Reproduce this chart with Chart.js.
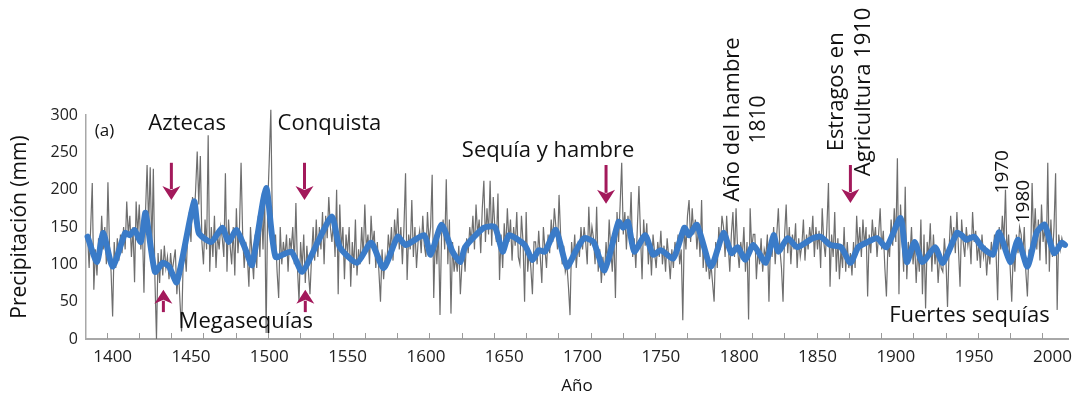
<html lang="es">
<head>
  <meta charset="UTF-8">
  <title>Precipitación reconstruida</title>
  <script src="https://cdn.jsdelivr.net/npm/chart.js"></script>
  <style>
    body, html {
      margin: 0;
      padding: 0;
      background: #ffffff;
    }
    .chart-container {
      width: 1080px;
      height: 399px;
    }
  </style>
</head>
<body>
  <div class="chart-container"><canvas id="myChart" width="1080" height="399"></canvas></div>

  <script>
    // annual reconstruction, one value per year starting in 1384 (mm)
    const startYear = 1384;
    const annualMm = [
      140, 95, 150, 209, 66, 120,
      85, 135, 110, 165, 120, 150, 100, 210, 125, 90,
      30, 130, 95, 135, 105, 140, 115, 150, 120, 184,
      140, 165, 110, 150, 76, 184, 140, 180, 120, 150,
      62, 170, 233, 150, 230, 120, 228, 80, 0, 115,
      75, 120, 85, 125, 95, 110, 80, 115, 90, 105,
      120, 60, 95, 50, 10, 100, 120, 90, 145, 170,
      130, 190, 160, 200, 251, 180, 245, 130, 100, 160,
      120, 273, 90, 150, 110, 165, 95, 140, 120, 150,
      135, 110, 222, 90, 160, 125, 100, 150, 85, 175,
      115, 150, 236, 140, 95, 130, 110, 70, 150, 110,
      80, 140, 95, 165, 110, 180, 120, 200, 8, 180,
      240, 307, 150, 110, 140, 90, 55, 150, 100, 130,
      110, 140, 90, 135, 120, 150, 100, 182, 95, 50,
      130, 95, 140, 75, 125, 90, 60, 110, 150, 105,
      160, 110, 150, 120, 170, 100, 165, 135, 190, 150,
      130, 160, 110, 200, 60, 180, 120, 150, 80, 140,
      115, 150, 70, 130, 95, 160, 85, 120, 100, 150,
      110, 180, 120, 140, 100, 165, 125, 145, 95, 130,
      90, 50, 120, 80, 110, 95, 140, 115, 150, 105,
      160, 130, 175, 120, 150, 100, 150, 222, 79, 140,
      120, 186, 110, 150, 95, 130, 145, 115, 165, 125,
      110, 170, 130, 150, 220, 55, 140, 100, 150, 32,
      140, 160, 120, 214, 100, 160, 34, 130, 90, 110,
      90, 125, 60, 100, 125, 90, 135, 115, 150, 130,
      165, 120, 180, 140, 160, 115, 175, 212, 130, 175,
      140, 212, 125, 190, 150, 130, 195, 79, 140, 95,
      155, 120, 175, 130, 160, 105, 150, 125, 170, 110,
      100, 165, 130, 50, 170, 90, 120, 95, 60, 130,
      130, 100, 145, 110, 75, 150, 120, 95, 140, 115,
      160, 130, 175, 150, 120, 193, 140, 100, 125, 90,
      100, 70, 32, 130, 105, 140, 95, 125, 110, 150,
      120, 150, 130, 100, 177, 125, 150, 135, 100, 177,
      90, 120, 75, 110, 85, 130, 100, 160, 120, 90,
      140, 55, 170, 130, 180, 236, 140, 170, 120, 165,
      140, 197, 110, 135, 95, 150, 205, 140, 80, 160,
      125, 155, 100, 130, 85, 140, 115, 95, 130, 110,
      145, 100, 125, 90, 135, 110, 80, 120, 95, 130,
      115, 140, 100, 120, 25, 150, 120, 165, 186, 130,
      175, 140, 160, 120, 150, 110, 186, 95, 125, 90,
      110, 80, 100, 75, 50, 130, 95, 150, 120, 165,
      150, 110, 165, 125, 90, 140, 170, 110, 175, 120,
      95, 130, 110, 150, 90, 130, 26, 175, 120, 140,
      140, 80, 120, 100, 135, 90, 120, 110, 140, 50,
      130, 110, 150, 100, 140, 175, 120, 95, 50, 140,
      180, 115, 150, 100, 140, 120, 155, 95, 135, 110,
      125, 160, 105, 140, 120, 150, 130, 165, 110, 150,
      120, 145, 95, 175, 130, 110, 150, 209, 70, 140,
      110, 170, 90, 135, 80, 120, 95, 150, 90, 130,
      95, 115, 85, 130, 95, 165, 120, 150, 110, 160,
      125, 150, 57, 140, 115, 160, 130, 150, 110, 140,
      175, 120, 145, 95, 57, 130, 110, 160, 125, 175,
      130, 242, 60, 180, 135, 90, 204, 80, 130, 110,
      150, 100, 130, 75, 120, 90, 160, 60, 140, 41,
      130, 110, 155, 90, 140, 100, 125, 75, 110, 95,
      90, 135, 105, 43, 120, 165, 130, 150, 115, 170,
      120, 70, 160, 130, 110, 150, 125, 140, 100, 170,
      130, 145, 105, 130, 95, 140, 110, 125, 85, 120,
      100, 130, 110, 140, 115, 52, 150, 120, 165, 130,
      200, 110, 140, 95, 50, 120, 90, 140, 115, 150,
      140, 110, 150, 90, 57, 120, 100, 209, 130, 175,
      120, 160, 105, 180, 130, 150, 100, 236, 90, 160,
      110, 150, 222, 39, 140, 120, 135, 125, 130
    ];

    // smoothed series (turning points)
    const smoothYears = [1384, 1390, 1394, 1400, 1408, 1411, 1414, 1418, 1421, 1427, 1432, 1436, 1441, 1452, 1455,
      1463, 1470, 1474, 1479, 1485, 1489, 1498, 1504, 1514, 1521, 1531, 1540, 1545, 1556, 1565, 1573, 1582,
      1587, 1599, 1603, 1610, 1617, 1622, 1625, 1637, 1644, 1649, 1653, 1663, 1668, 1672, 1676, 1683, 1690,
      1696, 1701, 1707, 1714, 1723, 1726, 1729, 1733, 1740, 1745, 1750, 1758, 1765, 1768, 1773, 1782, 1790,
      1795, 1799, 1804, 1809, 1817, 1822, 1825, 1831, 1837, 1847, 1852, 1858, 1865, 1871, 1876, 1881, 1888,
      1894, 1903, 1907, 1912, 1917, 1925, 1930, 1939, 1942, 1945, 1950, 1955, 1962, 1966, 1973, 1978, 1984,
      1990, 1995, 2001, 2006, 2008];
    const smoothMm = [137, 103, 142, 97, 142, 139, 146, 130, 169, 90, 102, 97, 76, 184, 142,
      130, 149, 130, 146, 119, 99, 202, 110, 117, 90, 130, 164, 123, 102, 129, 95, 137,
      126, 139, 113, 153, 117, 103, 123, 149, 150, 117, 139, 126, 106, 119, 117, 146, 97,
      119, 135, 130, 92, 157, 149, 157, 117, 139, 113, 119, 108, 149, 139, 153, 97, 142,
      115, 123, 106, 126, 102, 139, 117, 135, 123, 135, 137, 126, 123, 102, 123, 129, 135,
      123, 162, 103, 130, 103, 123, 102, 142, 139, 133, 137, 123, 113, 143, 103, 133, 97,
      143, 153, 115, 129, 126];

    const yearTicks = [1400, 1450, 1500, 1550, 1600, 1650, 1700, 1750, 1800, 1850, 1900, 1950, 2000];
    const mmTicks = [0, 50, 100, 150, 200, 250, 300];

    const annualPoints = annualMm.map((v, i) => ({ x: startYear + i, y: v }));
    const smoothPoints = smoothYears.map((yr, i) => ({ x: yr, y: smoothMm[i] }));

    const FONT = "'Open Sans', 'DejaVu Sans', sans-serif";
    const ARROW = '#a3195b';

    // labels and arrows, anchored in data units
    const notes = [
      { text: '(a)', x: 1388.6, y: 279, size: 17, align: 'left' },
      { text: 'Aztecas', x: 1447.6, y: 288, size: 22 },
      { text: 'Conquista', x: 1538.4, y: 288, size: 22 },
      { text: 'Sequía y hambre', x: 1678, y: 252, size: 22 },
      { text: 'Megasequías', x: 1485, y: 23, size: 22 },
      { text: 'Fuertes sequías', x: 1947, y: 31, size: 22 },
      { text: 'Año del hambre', x: 1796, y: 294, size: 22, rot: true },
      { text: '1810', x: 1812.5, y: 294, size: 21, rot: true },
      { text: 'Estragos en', x: 1862.5, y: 331, size: 22, rot: true },
      { text: 'Agricultura 1910', x: 1879.5, y: 331, size: 22, rot: true },
      { text: '1970', x: 1968.3, y: 224, size: 19, rot: true },
      { text: '1980', x: 1981.6, y: 184, size: 19, rot: true }
    ];
    const arrows = [
      { x: 1437.5, from: 236, to: 186 },
      { x: 1522.5, from: 236, to: 186 },
      { x: 1715, from: 233, to: 181 },
      { x: 1871, from: 233, to: 182 },
      { x: 1432.4, from: 36, to: 66 },
      { x: 1523, from: 36, to: 66 }
    ];

    const notesPlugin = {
      id: 'notes',
      afterDraw(chart) {
        const ctx = chart.ctx;
        const xs = chart.scales.x, ys = chart.scales.y;
        const area = chart.chartArea;
        ctx.save();

        // small inward tick marks along the year axis
        ctx.strokeStyle = '#9a9a9a';
        ctx.lineWidth = 1;
        for (let yr = 1396.2; yr < 2010; yr += 20.6) {
          const px = Math.round(xs.getPixelForValue(yr)) + 0.5;
          ctx.beginPath();
          ctx.moveTo(px, area.bottom - 6);
          ctx.lineTo(px, area.bottom);
          ctx.stroke();
        }

        // axis titles
        ctx.fillStyle = '#111';
        ctx.font = '21px ' + FONT;
        ctx.textAlign = 'center';
        ctx.textBaseline = 'middle';
        ctx.save();
        ctx.translate(20, (area.top + area.bottom) / 2);
        ctx.rotate(-Math.PI / 2);
        ctx.fillText('Precipitación (mm)', 0, 0);
        ctx.restore();
        ctx.font = '17px ' + FONT;
        ctx.fillText('Año', (area.left + area.right) / 2, 386);

        notes.forEach(n => {
          const px = xs.getPixelForValue(n.x);
          const py = ys.getPixelForValue(n.y);
          ctx.font = n.size + 'px ' + FONT;
          ctx.fillStyle = '#111';
          ctx.textAlign = n.align || 'center';
          ctx.textBaseline = 'middle';
          if (n.rot) {
            ctx.save();
            ctx.translate(px, py);
            ctx.rotate(-Math.PI / 2);
            ctx.fillText(n.text, 0, 0);
            ctx.restore();
          } else {
            ctx.fillText(n.text, px, py);
          }
        });

        ctx.strokeStyle = ARROW;
        ctx.fillStyle = ARROW;
        ctx.lineWidth = 3;
        arrows.forEach(a => {
          const px = xs.getPixelForValue(a.x);
          const p0 = ys.getPixelForValue(a.from);
          const p1 = ys.getPixelForValue(a.to);
          const dir = p1 > p0 ? 1 : -1;
          const headLen = 14, headW = 9;
          ctx.beginPath();
          ctx.moveTo(px, p0);
          ctx.lineTo(px, p1 - dir * (headLen - 3));
          ctx.stroke();
          ctx.beginPath();
          ctx.moveTo(px, p1);
          ctx.lineTo(px - headW, p1 - dir * headLen);
          ctx.lineTo(px, p1 - dir * (headLen - 4));
          ctx.lineTo(px + headW, p1 - dir * headLen);
          ctx.closePath();
          ctx.fill();
        });
        ctx.restore();
      }
    };

    const ctx = document.getElementById('myChart').getContext('2d');
    const myChart = new Chart(ctx, {
      type: 'line',
      data: {
        datasets: [
          {
            label: 'Suavizado',
            data: smoothPoints,
            borderColor: '#3a7bc8',
            borderWidth: 6,
            borderJoinStyle: 'round',
            borderCapStyle: 'round',
            pointRadius: 0,
            tension: 0.2,
            order: 0,
            clip: false
          },
          {
            label: 'Anual',
            data: annualPoints,
            borderColor: '#6e6e6e',
            borderWidth: 1.2,
            pointRadius: 0,
            tension: 0,
            order: 1,
            clip: false
          }
        ]
      },
      options: {
        responsive: false,
        animation: false,
        events: [],
        layout: { padding: { top: 115, right: 6, left: 0, bottom: 0 } },
        plugins: {
          legend: { display: false },
          tooltip: { enabled: false }
        },
        scales: {
          x: {
            type: 'linear',
            min: 1383,
            max: 2010,
            afterBuildTicks: scale => { scale.ticks = yearTicks.map(v => ({ value: v })); },
            afterFit: scale => { scale.height = 60; },
            grid: { display: false, drawTicks: false },
            border: { display: true, color: '#a8a8a8', width: 2 },
            ticks: {
              padding: 8,
              color: '#222',
              maxRotation: 0,
              autoSkip: false,
              font: { family: FONT, size: 17 },
              callback: v => String(v)
            }
          },
          y: {
            min: 0,
            max: 300,
            afterBuildTicks: scale => { scale.ticks = mmTicks.map(v => ({ value: v })); },
            afterFit: scale => { scale.width = 86; },
            grid: { display: false, drawTicks: false },
            border: { display: true, color: '#a8a8a8', width: 1.5 },
            ticks: {
              padding: 8,
              color: '#222',
              font: { family: FONT, size: 16 }
            }
          }
        }
      },
      plugins: [notesPlugin]
    });
  </script>
</body>
</html>
